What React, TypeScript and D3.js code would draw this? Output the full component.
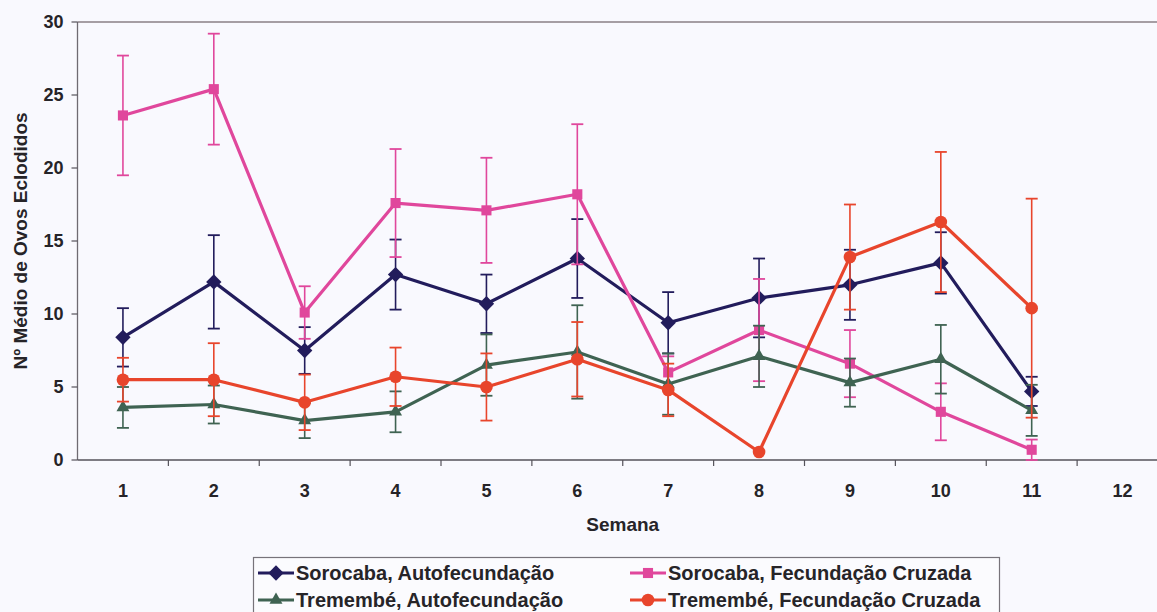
import React, { useEffect, useRef } from "react";
import * as d3 from "d3";

const weeks = ["1", "2", "3", "4", "5", "6", "7", "8", "9", "10", "11", "12"];
const yTicks = [0, 5, 10, 15, 20, 25, 30];

const sorocabaAutoMean = [8.4, 12.2, 7.5, 12.7, 10.7, 13.8, 9.4, 11.1, 12.0, 13.5, 4.7];
const sorocabaAutoErr = [2.0, 3.2, 1.6, 2.4, 2.0, 2.7, 2.1, 2.7, 2.4, 2.1, 1.0];

const sorocabaCruzMean = [23.6, 25.4, 10.1, 17.6, 17.1, 18.2, 6.0, 8.9, 6.6, 3.3, 0.7];
const sorocabaCruzErr = [4.1, 3.8, 1.8, 3.7, 3.6, 4.8, 1.1, 3.5, 2.3, 1.95, 0.7];

const tremembeAutoMean = [3.6, 3.8, 2.7, 3.3, 6.5, 7.4, 5.2, 7.1, 5.3, 6.9, 3.4];
const tremembeAutoErr = [1.4, 1.3, 1.2, 1.4, 2.1, 3.2, 2.1, 2.1, 1.65, 2.35, 1.75];

const tremembeCruzMean = [5.5, 5.5, 3.95, 5.7, 5.0, 6.9, 4.8, 0.55, 13.9, 16.3, 10.4];
const tremembeCruzErr = [1.5, 2.5, 1.9, 2.0, 2.3, 2.55, 1.8, 0, 3.6, 4.8, 7.5];

const seriesNames = [
  "Sorocaba, Autofecundação",
  "Sorocaba, Fecundação Cruzada",
  "Tremembé, Autofecundação",
  "Tremembé, Fecundação Cruzada",
];

type Marker = "diamond" | "square" | "triangle" | "circle";

interface Series {
  name: string;
  mean: number[];
  err: number[];
  color: string;
  marker: Marker;
}

const series: Series[] = [
  { name: seriesNames[0], mean: sorocabaAutoMean, err: sorocabaAutoErr, color: "#221c5c", marker: "diamond" },
  { name: seriesNames[1], mean: sorocabaCruzMean, err: sorocabaCruzErr, color: "#e0479c", marker: "square" },
  { name: seriesNames[2], mean: tremembeAutoMean, err: tremembeAutoErr, color: "#3f6352", marker: "triangle" },
  { name: seriesNames[3], mean: tremembeCruzMean, err: tremembeCruzErr, color: "#e8452c", marker: "circle" },
];

const W = 1157;
const H = 612;
const margin = { left: 77.5, top: 22, right: -11, bottom: 152 };
const FONT = "'Liberation Sans', Arial, sans-serif";
const TEXT = "#262428";

function markerPath(m: Marker): string {
  const sym =
    m === "diamond" ? d3.symbolDiamond2 :
    m === "square" ? d3.symbolSquare2 :
    m === "triangle" ? d3.symbolTriangle2 : d3.symbolCircle;
  const size = m === "circle" ? 125 : m === "diamond" ? 150 : m === "triangle" ? 120 : 130;
  return d3.symbol(sym, size)() as string;
}

export default function App() {
  const ref = useRef<SVGSVGElement | null>(null);

  useEffect(() => {
    document.body.style.margin = "0";
    const svg = d3.select(ref.current!);
    svg.selectAll("*").remove();

    const x0 = margin.left;
    const x1 = W - margin.right;
    const y0 = H - margin.bottom;
    const yTop = margin.top;

    const x = d3.scaleBand<string>().domain(weeks).range([x0, x1]);
    const y = d3.scaleLinear().domain([0, 30]).range([y0, yTop]);
    const cx = (i: number) => (x(weeks[i]) as number) + x.bandwidth() / 2;

    svg.append("rect").attr("width", W).attr("height", H).attr("fill", "#f9f9fe");

    // plot frame (top and left edges)
    svg.append("line").attr("x1", x0).attr("x2", W).attr("y1", yTop).attr("y2", yTop)
      .attr("stroke", "#8a7f86").attr("stroke-width", 1.3);
    svg.append("line").attr("x1", x0).attr("x2", x0).attr("y1", yTop).attr("y2", y0)
      .attr("stroke", "#6f6b72").attr("stroke-width", 1.3);

    // y axis
    const yAxis = svg.append("g");
    yTicks.forEach((t) => {
      yAxis.append("line").attr("x1", x0 - 6).attr("x2", x0).attr("y1", y(t)).attr("y2", y(t))
        .attr("stroke", "#55525a").attr("stroke-width", 1.2);
      yAxis.append("text").attr("x", x0 - 14).attr("y", y(t)).attr("dy", "0.36em")
        .attr("text-anchor", "end").attr("font-family", FONT).attr("font-weight", "bold")
        .attr("font-size", 18).attr("fill", TEXT).text(String(t));
    });

    // x axis
    svg.append("line").attr("x1", x0).attr("x2", W).attr("y1", y0).attr("y2", y0)
      .attr("stroke", "#55525a").attr("stroke-width", 1.3);
    weeks.forEach((w, i) => {
      const bx = x(w) as number;
      if (i > 0) {
        svg.append("line").attr("x1", bx).attr("x2", bx).attr("y1", y0).attr("y2", y0 + 6)
          .attr("stroke", "#55525a").attr("stroke-width", 1.2);
      }
      svg.append("text").attr("x", bx + x.bandwidth() / 2).attr("y", y0 + 37)
        .attr("text-anchor", "middle").attr("font-family", FONT).attr("font-weight", "bold")
        .attr("font-size", 18).attr("fill", TEXT).text(w);
    });

    svg.append("text").attr("x", (x0 + x1) / 2).attr("y", 531).attr("text-anchor", "middle")
      .attr("font-family", FONT).attr("font-weight", "bold").attr("font-size", 19)
      .attr("fill", TEXT).text("Semana");

    svg.append("text")
      .attr("transform", `translate(27,${(yTop + y0) / 2}) rotate(-90)`)
      .attr("text-anchor", "middle").attr("font-family", FONT).attr("font-weight", "bold")
      .attr("font-size", 19).attr("fill", TEXT).text("Nº Médio de Ovos Eclodidos");

    // series: error bars, line, markers
    const line = d3.line<number>().x((_, i) => cx(i)).y((v) => y(v));
    series.forEach((s) => {
      const g = svg.append("g");
      s.mean.forEach((m, i) => {
        const e = s.err[i];
        if (e <= 0) return;
        const px = cx(i);
        const lo = Math.max(0, m - e);
        g.append("line").attr("x1", px).attr("x2", px).attr("y1", y(m + e)).attr("y2", y(lo))
          .attr("stroke", s.color).attr("stroke-width", 1.6);
        [m + e, lo].forEach((v) => {
          g.append("line").attr("x1", px - 6).attr("x2", px + 6).attr("y1", y(v)).attr("y2", y(v))
            .attr("stroke", s.color).attr("stroke-width", 1.8);
        });
      });
      g.append("path").attr("d", line(s.mean)).attr("fill", "none")
        .attr("stroke", s.color).attr("stroke-width", 3.2).attr("stroke-linejoin", "round");
      const mp = markerPath(s.marker);
      s.mean.forEach((m, i) => {
        g.append("path").attr("d", mp).attr("transform", `translate(${cx(i)},${y(m)})`)
          .attr("fill", s.color);
      });
    });

    // legend
    const lg = svg.append("g");
    lg.append("rect").attr("x", 253.5).attr("y", 557.5).attr("width", 746).attr("height", 70)
      .attr("fill", "#fbfbfe").attr("stroke", "#77737a").attr("stroke-width", 1.2);
    const cols = [258, 630];
    const rows = [573, 600];
    series.forEach((s, i) => {
      const lx = cols[i % 2];
      const ly = rows[Math.floor(i / 2)];
      lg.append("line").attr("x1", lx).attr("x2", lx + 36).attr("y1", ly).attr("y2", ly)
        .attr("stroke", s.color).attr("stroke-width", 3);
      lg.append("path").attr("d", markerPath(s.marker)).attr("transform", `translate(${lx + 18},${ly})`)
        .attr("fill", s.color);
      lg.append("text").attr("x", lx + 38).attr("y", ly).attr("dy", "0.36em")
        .attr("font-family", FONT).attr("font-weight", "bold").attr("font-size", 20)
        .attr("fill", TEXT).text(s.name);
    });
  }, []);

  return (
    <svg ref={ref} width={W} height={H}
      style={{ position: "absolute", left: 0, top: 0, display: "block" }} />
  );
}
